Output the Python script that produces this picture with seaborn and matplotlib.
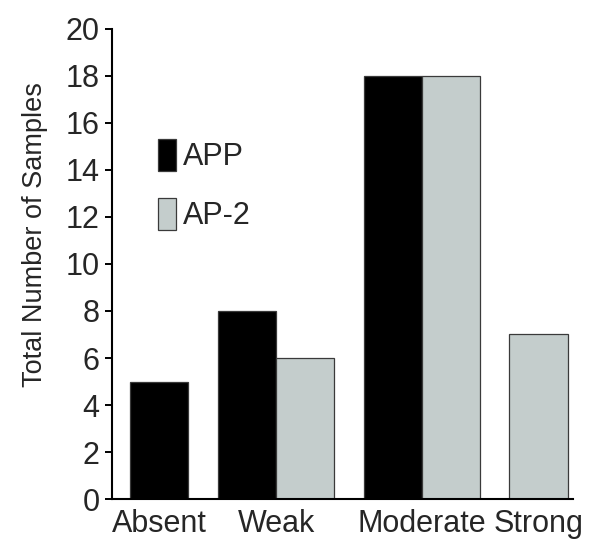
import matplotlib.pyplot as plt
import pandas as pd
import seaborn as sns

categories = ["Absent", "Weak", "Moderate", "Strong"]
series = ["APP", "AP-2"]
app_counts = [5, 8, 18, 0]
ap2_counts = [0, 6, 18, 7]
y_ticks = list(range(0, 21, 2))

colors = {"APP": "#000000", "AP-2": "#c2cfcd"}
GAP = 0.5  # space between groups, in bar widths


def build_frame():
    # empty bars are left out and the remaining ones packed side by side
    rows, centers = [], []
    pos = 0.0
    for cat, a, b in zip(categories, app_counts, ap2_counts):
        start = pos
        for s, v in zip(series, (a, b)):
            if v > 0:
                rows.append({"pos": pos + 0.5, "series": s, "count": v})
                pos += 1
        centers.append((start + pos) / 2)
        pos += GAP
    return pd.DataFrame(rows), centers


df, centers = build_frame()

sns.set_theme(style="ticks")
plt.rcParams["font.family"] = ["Liberation Sans", "DejaVu Sans"]

fig = plt.figure(figsize=(6, 5.57), dpi=100)
ax = fig.add_axes([0.1867, 0.1041, 0.955 - 0.1867, 0.948 - 0.1041])

sns.barplot(
    data=df,
    x="pos",
    y="count",
    hue="series",
    hue_order=series,
    palette=colors,
    native_scale=True,
    dodge=False,
    width=1,
    edgecolor="#3a3a3a",
    linewidth=0.9,
    ax=ax,
)

ax.set_xlim(-0.31, 7.59)
ax.set_ylim(0, 20)
ax.set_yticks(y_ticks)
ax.set_xticks(centers)
ax.set_xticklabels(categories)
ax.set_xlabel("")
ax.set_ylabel("Total Number of Samples", fontsize=19.5)
ax.yaxis.set_label_coords(-0.139, 0.562)
ax.tick_params(axis="y", labelsize=22, length=5, width=1.4, pad=4, color="black")
ax.tick_params(axis="x", labelsize=22, length=0, pad=7)
for side in ["top", "right"]:
    ax.spines[side].set_visible(False)
for side in ["left", "bottom"]:
    ax.spines[side].set_linewidth(1.5)
    ax.spines[side].set_color("black")

handles, labels = ax.get_legend_handles_labels()
ax.legend(
    handles,
    labels,
    loc="upper left",
    bbox_to_anchor=(0.0998, 0.765),
    frameon=False,
    fontsize=22,
    handlelength=0.58,
    handleheight=1.2,
    handletextpad=0.25,
    labelspacing=0.85,
    borderpad=0,
    borderaxespad=0,
)

fig.savefig("out.png", dpi=100)
